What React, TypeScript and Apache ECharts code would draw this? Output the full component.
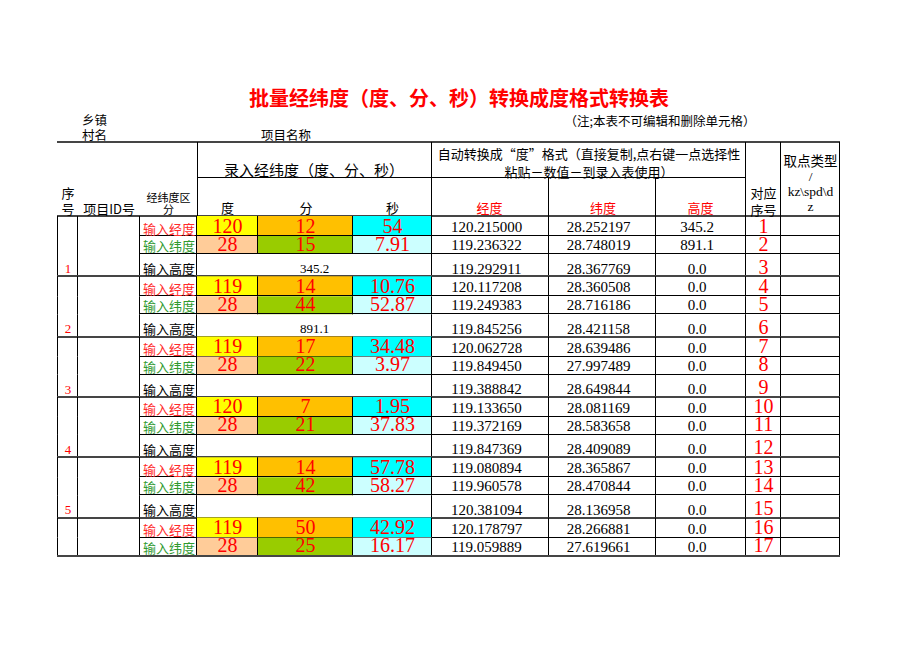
import React, { useEffect, useRef } from "react";
import * as echarts from "echarts";

// ---------- data (read from the sheet) ----------
const groupNo = [1, 2, 3, 4, 5, 6];
const lonDeg = [120, 119, 119, 120, 119, 119];
const lonMin = [12, 14, 17, 7, 14, 50];
const lonSec = [54, 10.76, 34.48, 1.95, 57.78, 42.92];
const latDeg = [28, 28, 28, 28, 28, 28];
const latMin = [15, 44, 22, 21, 42, 25];
const latSec = [7.91, 52.87, 3.97, 37.83, 58.27, 16.17];
const groupHeight: (number | null)[] = [345.2, 891.1, null, null, null, null];

const convLon = [
  120.215, 119.236322, 119.292911, 120.117208, 119.249383, 119.845256, 120.062728, 119.84945,
  119.388842, 119.13365, 119.372169, 119.847369, 119.080894, 119.960578, 120.381094, 120.178797,
  119.059889,
];
const convLat = [
  28.252197, 28.748019, 28.367769, 28.360508, 28.716186, 28.421158, 28.639486, 27.997489,
  28.649844, 28.081169, 28.583658, 28.409089, 28.365867, 28.470844, 28.136958, 28.266881,
  27.619661,
];
const convAlt = [345.2, 891.1, 0, 0, 0, 0, 0, 0, 0, 0, 0, 0, 0, 0, 0, 0, 0];
const pointNo = [1, 2, 3, 4, 5, 6, 7, 8, 9, 10, 11, 12, 13, 14, 15, 16, 17];

const rowLabels = ["输入经度", "输入纬度", "输入高度"];

// ---------- layout ----------
const COLS = [58, 78, 140, 197, 258, 353, 432, 549, 656, 746, 781, 840];
const TOP = 216;
const ROW_H = [20, 18, 22.3];
const ROW_OFF = [0, 20, 38];
const GROUP_H = 60.3;

const CJK = '"Noto Sans CJK SC", "Noto Sans CJK JP", sans-serif';
const SERIF = '"Liberation Serif", "DejaVu Serif", "Noto Sans CJK SC", serif';
const RED = "#ff0000";
const LABEL_RED = "#ff2a2a";
const GREEN = "#2f9a2f";
const LINE = "#000000";
const THICK = "#454545";

const FILL_LON = ["#ffff00", "#ffc000", "#00ffff"];
const FILL_LAT = ["#ffcc99", "#99cc00", "#ccffff"];

function crisp(v: number) {
  return Math.round(v) + 0.5;
}

function textEl(str: string, x: number, y: number, size: number, fam: string, color: string, align = "center", weight = "normal", lh?: number) {
  return {
    type: "text",
    x,
    y,
    style: {
      text: str,
      fill: color,
      font: `${weight} ${size}px ${fam}`,
      lineHeight: lh ?? Math.round(size * 0.9),
      align,
      verticalAlign: "middle",
      textAlign: align,
      textVerticalAlign: "middle",
    },
  };
}

function renderRow(params: any, api: any) {
  const i = params.dataIndex;
  const g = Math.floor(i / 3);
  const k = i % 3;
  const y0v = TOP + g * GROUP_H + ROW_OFF[k];
  const y1v = y0v + ROW_H[k];
  const y0 = api.coord([0, y0v])[1];
  const y1 = api.coord([0, y1v])[1];
  const X = COLS.map((c) => api.coord([c, 0])[0]);
  const mid = (a: number, b: number) => (X[a] + X[b]) / 2;
  const kids: any[] = [];

  const rect = (xa: number, xb: number, fill: string) =>
    kids.push({ type: "rect", shape: { x: xa, y: y0, width: xb - xa, height: y1 - y0 }, style: { fill } });
  const text = (str: string, x: number, y: number, size: number, fam: string, color: string, align = "center") =>
    kids.push(textEl(str, x, y, size, fam, color, align));
  const hline = (xa: number, xb: number, y: number, w: number, color: string) =>
    kids.push({ type: "line", shape: { x1: xa, y1: y, x2: xb, y2: y }, style: { stroke: color, lineWidth: w } });
  const vline = (x: number, ya: number, yb: number) =>
    kids.push({ type: "line", shape: { x1: x, y1: ya, x2: x, y2: yb }, style: { stroke: LINE, lineWidth: 1 } });

  // fills
  if (k === 0) {
    rect(X[3], X[4], FILL_LON[0]);
    rect(X[4], X[5], FILL_LON[1]);
    rect(X[5], X[6], FILL_LON[2]);
  } else if (k === 1) {
    rect(X[3], X[4], FILL_LAT[0]);
    rect(X[4], X[5], FILL_LAT[1]);
    rect(X[5], X[6], FILL_LAT[2]);
  }

  // vertical lines
  const vIdx = k < 2 ? [0, 1, 2, 3, 4, 5, 6, 7, 8, 9, 10, 11] : [0, 1, 2, 3, 6, 7, 8, 9, 10, 11];
  vIdx.forEach((c) => vline(crisp(X[c]) - 1, y0, y1));

  // bottom line
  const last = i === pointNo.length - 1;
  if (k === 2 || last) hline(X[0] - 1, X[11], Math.round(y1), 2, THICK);
  else hline(X[2] - 1, X[11], crisp(y1) - 1, 1, LINE);

  const bigY = y0 + [9.5, 7.5, 12.5][k];
  const smallY = y0 + [11, 9, 14.5][k];
  const cjkY = y0 + [12, 9.6, 14.5][k];

  // row label
  text(rowLabels[k], X[2] + 3, cjkY, 13, CJK, k === 0 ? LABEL_RED : k === 1 ? GREEN : "#000", "left");

  if (k === 0) {
    text(String(lonDeg[g]), mid(3, 4), bigY, 20, SERIF, RED);
    text(String(lonMin[g]), mid(4, 5), bigY, 20, SERIF, RED);
    text(String(lonSec[g]), mid(5, 6), bigY, 20, SERIF, RED);
  } else if (k === 1) {
    text(String(latDeg[g]), mid(3, 4), bigY, 20, SERIF, RED);
    text(String(latMin[g]), mid(4, 5), bigY, 20, SERIF, RED);
    text(String(latSec[g]), mid(5, 6), bigY, 20, SERIF, RED);
  } else {
    const h = groupHeight[g];
    if (h !== null) text(h.toFixed(1), mid(3, 6), smallY, 13, SERIF, "#000");
    text(String(groupNo[g]), mid(0, 1), smallY, 13, SERIF, RED);
  }

  // converted columns
  text(convLon[i].toFixed(6), mid(6, 7) - 4, smallY, 15, SERIF, "#000");
  text(convLat[i].toFixed(6), mid(7, 8) - 4, smallY, 15, SERIF, "#000");
  text(convAlt[i].toFixed(1), mid(8, 9) - 4, smallY, 15, SERIF, "#000");
  text(String(pointNo[i]), mid(9, 10), bigY, 20, SERIF, RED);

  return { type: "group", children: kids };
}

function headerGraphics() {
  const els: any[] = [];
  const t = (str: string, x: number, y: number, size: number, color = "#000", fam = CJK, weight = "normal", align = "center", lh?: number) =>
    els.push(textEl(str, x, y, size, fam, color, align, weight, lh));
  const l = (x1: number, y1: number, x2: number, y2: number, w = 1, c = LINE) =>
    els.push({ type: "line", shape: { x1, y1, x2, y2 }, style: { stroke: c, lineWidth: w } });

  // title and captions
  t("批量经纬度（度、分、秒）转换成度格式转换表", 459, 97, 20, RED, CJK, "bold");
  t("乡镇\n村名", 82, 126.5, 12.5, "#000", CJK, "normal", "left", 15);
  t("项目名称", 286, 134, 12.5);
  t("（注;本表不可编辑和删除单元格）", 660, 120, 12.5);

  // header frame
  l(57, 142, 840, 142, 2, THICK);
  l(57, 216, 840, 216, 2, THICK);
  l(197.5, 177.5, 746, 177.5);
  [197.5, 431.5, 745.5, 780.5, 839.5].forEach((x) => l(x, 142, x, 216));
  [548.5, 655.5].forEach((x) => l(x, 177.5, x, 216));

  // header texts
  t("序\n号", 68, 200.25, 13, "#000", CJK, "normal", "center", 16.5);
  t("项目ID号", 109, 208.5, 13);
  t("经纬度区\n分", 168.5, 202.5, 11, "#000", CJK, "normal", "center", 12);
  t("录入经纬度（度、分、秒）", 314, 169, 15);
  t("度", 227.5, 207, 13);
  t("分", 306, 207, 13);
  t("秒", 392.5, 207, 13);
  t("自动转换成“度”格式（直接复制,点右键一点选择性\n粘贴－数值－到录入表使用）", 589, 162.25, 13, "#000", CJK, "normal", "center", 17.5);
  t("经度", 489.5, 207.5, 13, RED);
  t("纬度", 603, 207.5, 13, RED);
  t("高度", 700.5, 207.5, 13, RED);
  t("对应\n序号", 763.5, 200.75, 13, "#000", CJK, "normal", "center", 16.5);
  t("取点类型\n/\nkz\\spd\\d\nz", 810.5, 184, 13.5, "#000", SERIF, "normal", "center", 15.3);
  return els;
}

export default function App() {
  const ref = useRef<HTMLDivElement>(null);
  useEffect(() => {
    if (!ref.current) return;
    const chart = echarts.init(ref.current, undefined, { renderer: "svg" });
    chart.setOption({
      animation: false,
      backgroundColor: "#ffffff",
      grid: { left: 0, right: 0, top: 0, bottom: 0, containLabel: false },
      xAxis: { type: "value", min: 0, max: 920, show: false },
      yAxis: { type: "value", min: 0, max: 651, inverse: true, show: false },
      graphic: headerGraphics(),
      series: [
        {
          type: "custom",
          coordinateSystem: "cartesian2d",
          silent: true,
          clip: false,
          data: pointNo.map((n, i) => [i, n]),
          renderItem: renderRow,
        },
      ],
    });
    return () => chart.dispose();
  }, []);
  return (
    <div
      ref={ref}
      style={{ position: "fixed", left: 0, top: 0, width: 920, height: 651, background: "#fff" }}
    />
  );
}
